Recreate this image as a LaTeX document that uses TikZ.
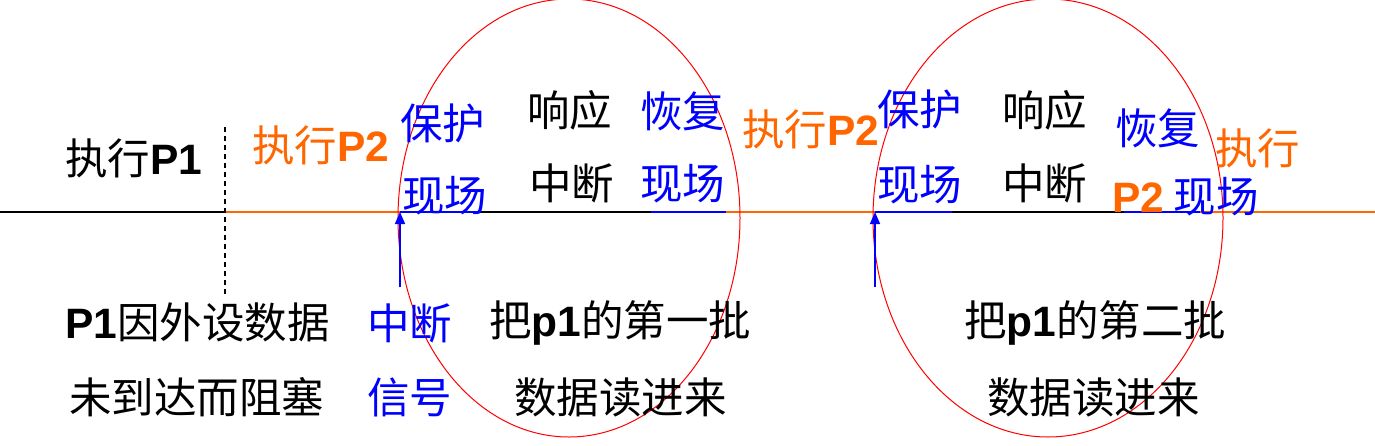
\documentclass[tikz,border=0pt]{standalone}
\usepackage{fontspec}
\usetikzlibrary{arrows.meta}
\newfontfamily\cjk{Noto Sans CJK SC}
\newfontfamily\latf{Liberation Sans}
\newcommand\pbf[1]{{\latf\bfseries #1}}
\definecolor{orng}{HTML}{FF6600}
\definecolor{blu}{HTML}{0000FF}
\definecolor{rd}{HTML}{FF0000}
\begin{document}
\begin{tikzpicture}[x=1pt,y=-1pt,
  lbl/.style={anchor=west,inner sep=0pt,font=\fontsize{42.5}{46}\selectfont\cjk},
  blk/.style={lbl,text=black},
  org/.style={lbl,text=orng},
  bl/.style={lbl,text=blu},
  tl/.style={line width=2pt},
  loop/.style={draw=rd,line width=1pt},
  sig/.style={draw=blu,line width=1.5pt,-{Triangle[width=10pt,length=12pt]}}]
\useasboundingbox (0,0) rectangle (1375,445);
% timeline coordinates
\coordinate (t0) at (0,212);
\coordinate (t1) at (225,212);
\coordinate (t2) at (400,212);
\coordinate (t3) at (478,212);
\coordinate (t4) at (651,212);
\coordinate (t5) at (726,212);
\coordinate (t6) at (875,212);
\coordinate (t7) at (952,212);
\coordinate (t8) at (1124,212);
\coordinate (t9) at (1200,212);
\coordinate (t10) at (1375,212);
\draw[tl,black] (t0) -- (t1);
\draw[tl,orng] (t1) -- (t2);
\draw[tl,blu] (t2) -- (t3);
\draw[tl,black] (t3) -- (t4);
\draw[tl,blu] (t4) -- (t5);
\draw[tl,orng] (t5) -- (t6);
\draw[tl,blu] (t6) -- (t7);
\draw[tl,black] (t7) -- (t8);
\draw[tl,blu] (t8) -- (t9);
\draw[tl,orng] (t9) -- (t10);
% dashed divider
\coordinate (d0) at (225,127);
\coordinate (d1) at (225,294);
\draw[black,line width=1.5pt,dash pattern=on 5pt off 4pt] (d0) -- (d1);
% ellipses
\draw[loop] (569,218) ellipse [x radius=171,y radius=219];
\draw[loop] (1048,218) ellipse [x radius=175,y radius=219];
% interrupt arrows
\coordinate (a0) at (400,287);
\coordinate (b0) at (875,287);
\draw[sig] (a0) -- (t2);
\draw[sig] (b0) -- (t6);
% top texts
\node[blk] (p1run) at (65,158) {执行\pbf{P1}};
\node[org] (p2runa) at (252,145) {执行\pbf{P2}};
\node[bl] (savea1) at (400,123) {保护};
\node[bl] (savea2) at (402,196) {现场};
\node[blk] (respa1) at (527,110) {响应};
\node[blk] (respa2) at (529,183) {中断};
\node[bl] (resta1) at (640,111) {恢复};
\node[bl] (resta2) at (640,184) {现场};
\node[org] (p2runb) at (742,129) {执行\pbf{P2}};
\node[bl] (saveb1) at (877,109) {保护};
\node[bl] (saveb2) at (877,185) {现场};
\node[blk] (respb1) at (1002,110) {响应};
\node[blk] (respb2) at (1002,183) {中断};
\node[bl] (restb1) at (1115,128) {恢复};
\node[bl] (restb2) at (1112,197) {{\color{orng}\pbf{P2}} 现场};
\node[org] (p2runc) at (1215,148) {执行};
% bottom texts
\node[blk] (why1) at (65,322) {\pbf{P1}因外设数据};
\node[blk] (why2) at (69,397) {未到达而阻塞};
\node[bl] (int1) at (367,323) {中断};
\node[bl] (int2) at (367,397) {信号};
\node[blk] (rda1) at (489,323) {把\pbf{p1}的第一批};
\node[blk] (rda2) at (514,397) {数据读进来};
\node[blk] (rdb1) at (964,323) {把\pbf{p1}的第二批};
\node[blk] (rdb2) at (987,397) {数据读进来};
\end{tikzpicture}
\end{document}
